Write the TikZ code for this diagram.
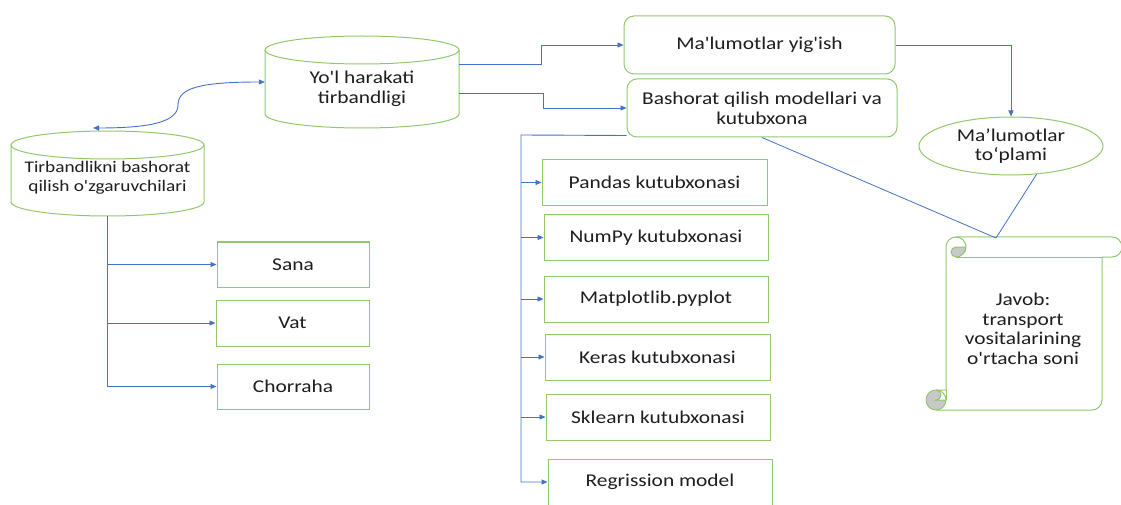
\documentclass[tikz,border=0pt]{standalone}
\usepackage{fontspec}
\setmainfont{Carlito}[FakeStretch=1.19,Ligatures=TeXOff]
\usetikzlibrary{arrows.meta,shapes.geometric,calc}
\definecolor{bx}{RGB}{146,200,108}
\definecolor{ln}{RGB}{68,114,196}
\definecolor{tx}{RGB}{30,30,30}
\definecolor{curl}{RGB}{200,200,200}
\begin{document}
\begin{tikzpicture}[x=1pt,y=1pt,
  every node/.style={text=tx, font=\fontsize{18}{20}\selectfont, inner sep=0pt},
  box/.style={draw=bx, line width=1pt, minimum height=46, fill=white},
  rbox/.style={box, rounded corners=10pt, minimum height=58},
  conn/.style={draw=ln, line width=0.9pt, -{Triangle[length=6pt,width=5pt]}},
  both/.style={draw=ln, line width=0.9pt, {Triangle[length=6pt,width=5pt]}-{Triangle[length=6pt,width=5pt]}},
  plain/.style={draw=ln, line width=0.8pt},
  shp/.style={draw=bx, line width=1pt}]
\fill[white] (0,0) rectangle (1121,504);
\useasboundingbox (0,0) rectangle (1121,504);

% cylinders
\draw[shp] (265,454) -- (265,390) arc[start angle=180,end angle=360,x radius=97,y radius=14] -- (459,454);
\draw[shp] (362,454) ellipse [x radius=97,y radius=14];
\draw[shp] (11,359) -- (11,302) arc[start angle=180,end angle=360,x radius=96.5,y radius=14] -- (204,359);
\draw[shp] (107.5,359) ellipse [x radius=96.5,y radius=14];

\node[minimum width=194, minimum height=78, align=center] (yol) at (362,415) {Yo'l harakati\\tirbandligi};
\node[minimum width=193, minimum height=76, align=center, font=\fontsize{16.2}{19}\selectfont] (tir) at (107.5,326) {Tirbandlikni bashorat\\qilish o'zgaruvchilari};

% top right boxes
\node[rbox, minimum width=271] (malum) at (759.5,459) {Ma'lumotlar yig'ish};
\node[rbox, minimum width=270, align=center] (bash) at (762,396) {Bashorat qilish modellari va\\kutubxona};
\node[ellipse, draw=bx, line width=1pt, minimum width=184, minimum height=58, align=center, font=\fontsize{18}{19.5}\selectfont] (ell) at (1011,358) {Ma’lumotlar\\to‘plami};

% library boxes
\node[box, minimum width=225] (pandas) at (654.5,321.5) {Pandas kutubxonasi};
\node[box, minimum width=224] (numpy) at (656,266.5) {NumPy kutubxonasi};
\node[box, minimum width=224] (matp) at (656,205) {Matplotlib.pyplot};
\node[box, minimum width=225] (keras) at (657.5,147) {Keras kutubxonasi};
\node[box, minimum width=224] (skl) at (658,87) {Sklearn kutubxonasi};
\node[box, minimum width=224] (reg) at (660,22) {Regrission model};

% left boxes
\node[box, minimum width=152, minimum height=45] (sana) at (293,239.5) {Sana};
\node[box, minimum width=153] (vat) at (292.5,181) {Vat};
\node[box, minimum width=152, minimum height=45] (chor) at (293,117.5) {Chorraha};

% scroll shape
\fill[curl] (956,257) -- (966,257) arc[start angle=0,end angle=-90,radius=10] arc[start angle=-90,end angle=-270,radius=5] -- cycle;
\fill[curl] (946,104) arc[start angle=0,end angle=-270,radius=10] arc[start angle=90,end angle=-90,radius=5] -- cycle;
\draw[shp] (946,114) -- (946,257) arc[start angle=180,end angle=90,radius=10] -- (1112,267) arc[start angle=90,end angle=-90,radius=10] -- (1102,247) -- (1102,104) arc[start angle=0,end angle=-90,radius=10] -- (936,94) arc[start angle=-90,end angle=-270,radius=10] -- cycle;
\draw[shp] (956,267) arc[start angle=90,end angle=-90,radius=10] arc[start angle=-90,end angle=-270,radius=5] -- (966,257);
\draw[shp] (1102,247) -- (956,247);
\draw[shp] (936,114) arc[start angle=90,end angle=-90,radius=5] -- (946,104);
\draw[shp] (936,94) arc[start angle=-90,end angle=90,radius=10];
\draw[shp] (946,114) -- (946,104);
\node[align=center, font=\fontsize{18}{19.5}\selectfont] (scroll) at (1023,175) {Javob:\\transport\\vositalarining\\o'rtacha soni};
\coordinate (stop) at (996,266);

% connectors
\coordinate (cTop) at (93,376);
\draw[both] (cTop) .. controls (150,376) and (178,382) .. (178,399) .. controls (178,416) and (200,422) .. ([yshift=7pt]yol.west);
\draw[conn] ([yshift=25pt]yol.east) -- ++(82,0) |- (malum.west);
\draw[conn] ([yshift=-4pt]yol.east) -- ++(84,0) |- (bash.west);
\draw[conn] (malum.east) -| (ell.north);
\draw[plain] (bash.south) -- (stop);
\draw[plain] (ell.-48) -- (stop);

\coordinate (lt) at (521,369);
\draw[conn] ([yshift=2pt]bash.south west) -- (lt) |- (reg.west);
\foreach \n in {pandas,numpy,matp,keras,skl} \draw[conn] (lt |- \n.west) -- (\n.west);

\draw[conn] (tir.south) |- (chor.west);
\draw[conn] (tir.south |- sana.west) -- (sana.west);
\draw[conn] (tir.south |- vat.west) -- (vat.west);
\end{tikzpicture}
\end{document}
